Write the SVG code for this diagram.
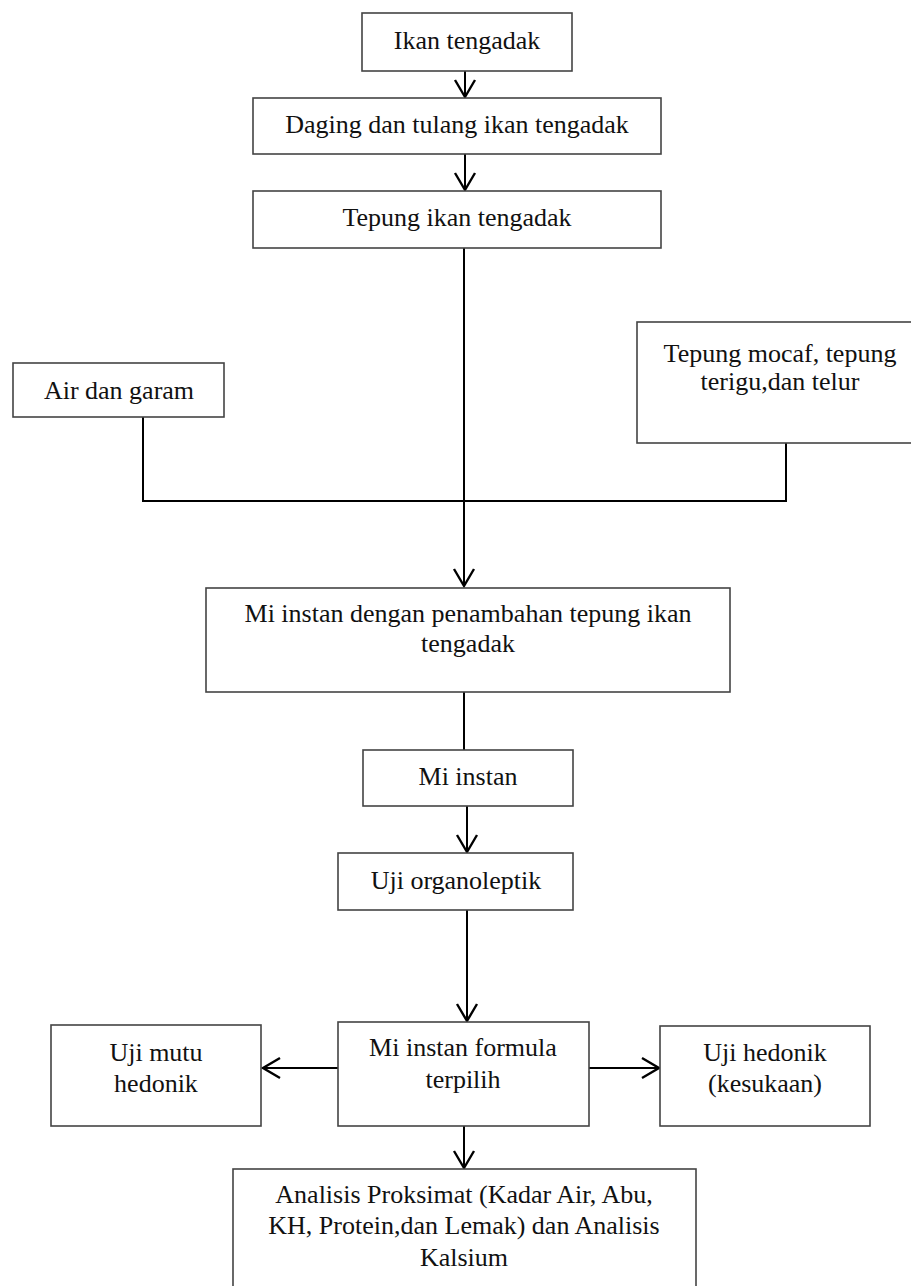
<svg xmlns="http://www.w3.org/2000/svg" width="911" height="1286" viewBox="0 0 911 1286">
<style>
.box{fill:#fff;stroke:#444;stroke-width:1.6}
.t{font-family:"Liberation Serif","Times New Roman",serif;font-size:26px;fill:#111;text-anchor:middle}
.ln{fill:none;stroke:#000;stroke-width:2}
</style>
<defs>
<marker id="arr" markerUnits="userSpaceOnUse" markerWidth="24" markerHeight="24" viewBox="-20 -12 24 24" refX="0" refY="0" orient="auto">
<path d="M-17,-10 L0,0 L-17,10" fill="none" stroke="#000" stroke-width="2.4"/>
</marker>
</defs>
<rect width="911" height="1286" fill="#fff"/>
<g id="connectors">
<line class="ln" x1="465" y1="71" x2="465" y2="97" marker-end="url(#arr)"/>
<line class="ln" x1="465" y1="154" x2="465" y2="190" marker-end="url(#arr)"/>
<line class="ln" x1="464" y1="248" x2="464" y2="586" marker-end="url(#arr)"/>
<polyline class="ln" points="143,417 143,501 786,501 786,442"/>
<line class="ln" x1="464" y1="692" x2="464" y2="750"/>
<line class="ln" x1="467" y1="806" x2="467" y2="852" marker-end="url(#arr)"/>
<line class="ln" x1="467" y1="910" x2="467" y2="1021" marker-end="url(#arr)"/>
<line class="ln" x1="338" y1="1068" x2="263" y2="1068" marker-end="url(#arr)"/>
<line class="ln" x1="589" y1="1068" x2="659" y2="1068" marker-end="url(#arr)"/>
<line class="ln" x1="464" y1="1126" x2="464" y2="1168" marker-end="url(#arr)"/>
</g>
<g id="n1"><rect class="box" x="362" y="13" width="210" height="58"/><text class="t" x="467" y="49">Ikan tengadak</text></g>
<g id="n2"><rect class="box" x="253" y="98" width="408" height="56"/><text class="t" x="457" y="133">Daging dan tulang ikan tengadak</text></g>
<g id="n3"><rect class="box" x="253" y="191" width="408" height="57"/><text class="t" x="457" y="226">Tepung ikan tengadak</text></g>
<g id="n4"><rect class="box" x="13" y="363" width="211" height="54"/><text class="t" x="119" y="399">Air dan garam</text></g>
<g id="n5"><rect class="box" x="637" y="322" width="290" height="121"/><text class="t" x="780" y="362">Tepung mocaf, tepung</text><text class="t" x="780" y="390">terigu,dan telur</text></g>
<g id="n6"><rect class="box" x="206" y="588" width="524" height="104"/><text class="t" x="468" y="622">Mi instan dengan penambahan tepung ikan</text><text class="t" x="468" y="652">tengadak</text></g>
<g id="n7"><rect class="box" x="363" y="750" width="210" height="56"/><text class="t" x="468" y="785">Mi instan</text></g>
<g id="n8"><rect class="box" x="338" y="853" width="235" height="57"/><text class="t" x="456" y="889">Uji organoleptik</text></g>
<g id="n9"><rect class="box" x="338" y="1022" width="251" height="104"/><text class="t" x="463" y="1056">Mi instan formula</text><text class="t" x="463" y="1088">terpilih</text></g>
<g id="n10"><rect class="box" x="51" y="1025" width="210" height="101"/><text class="t" x="156" y="1061">Uji mutu</text><text class="t" x="156" y="1092">hedonik</text></g>
<g id="n11"><rect class="box" x="660" y="1026" width="210" height="100"/><text class="t" x="765" y="1061">Uji hedonik</text><text class="t" x="765" y="1092">(kesukaan)</text></g>
<g id="n12"><rect class="box" x="233" y="1169" width="463" height="140"/><text class="t" x="464" y="1203">Analisis Proksimat (Kadar Air, Abu,</text><text class="t" x="464" y="1234">KH, Protein,dan Lemak) dan Analisis</text><text class="t" x="464" y="1266">Kalsium</text></g>
</svg>
